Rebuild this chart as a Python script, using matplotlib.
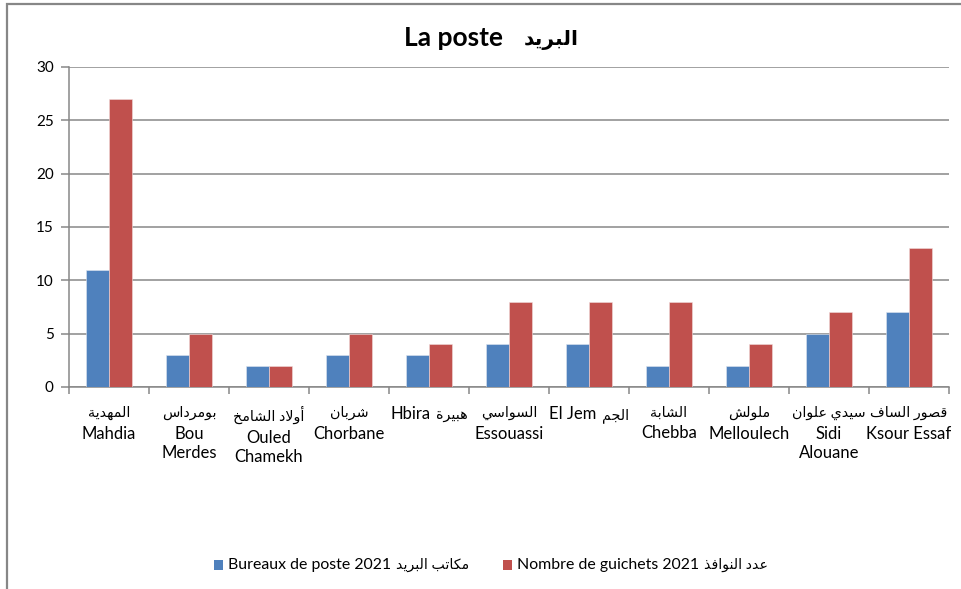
import matplotlib
matplotlib.use('Agg')
import matplotlib.pyplot as plt
from matplotlib.patches import Rectangle
from matplotlib.offsetbox import TextArea, HPacker, VPacker, DrawingArea, AnnotationBbox
import numpy as np

plt.rcParams['font.family'] = ['Lato', 'DejaVu Sans']

# communes of the Mahdia governorate
names_ar = ['المهدية', 'بومرداس', 'أولاد الشامخ', 'شربان', 'هبيرة', 'السواسي',
            'الجم', 'الشابة', 'ملولش', 'سيدي علوان', 'قصور الساف']
names_fr = ['Mahdia', 'Bou\nMerdes', 'Ouled\nChamekh', 'Chorbane', 'Hbira', 'Essouassi',
            'El Jem', 'Chebba', 'Melloulech', 'Sidi\nAlouane', 'Ksour Essaf']
same_line = ['Hbira', 'El Jem']

bureaux = [11, 3, 2, 3, 3, 4, 4, 2, 2, 5, 7]
guichets = [27, 5, 2, 5, 4, 8, 8, 8, 4, 7, 13]

title_fr = 'La poste'
title_ar = 'البريد'
label_bureaux = ('Bureaux de poste 2021', 'مكاتب البريد')
label_guichets = ('Nombre de guichets 2021', 'عدد النوافذ')

# matplotlib has no arabic shaping: pick presentation forms by hand
# (base code point, joins to the following letter)
FORMS = {'ا': (0xFE8D, False), 'أ': (0xFE83, False), 'ب': (0xFE8F, True),
         'ة': (0xFE93, False), 'ت': (0xFE95, True), 'ج': (0xFE9D, True),
         'خ': (0xFEA5, True), 'د': (0xFEA9, False), 'ذ': (0xFEAB, False),
         'ر': (0xFEAD, False), 'س': (0xFEB1, True), 'ش': (0xFEB5, True),
         'ص': (0xFEB9, True), 'ع': (0xFEC9, True), 'ف': (0xFED1, True),
         'ق': (0xFED5, True), 'ك': (0xFED9, True), 'ل': (0xFEDD, True),
         'م': (0xFEE1, True), 'ن': (0xFEE5, True), 'ه': (0xFEE9, True),
         'و': (0xFEED, False), 'ي': (0xFEF1, True), '\ufefb': (0xFEFB, False)}


def shape(text):
    text = text.replace('لا', '\ufefb')
    out = []
    for i, ch in enumerate(text):
        if ch not in FORMS:
            out.append(ch)
            continue
        base, dual = FORMS[ch]
        prev = text[i - 1] if i > 0 else ''
        nxt = text[i + 1] if i + 1 < len(text) else ''
        join_prev = prev in FORMS and FORMS[prev][1]
        join_next = dual and nxt in FORMS
        out.append(chr(base + (1 if join_prev else 0) + (2 if join_next else 0)))
    return ''.join(reversed(out))


blue = '#4F81BD'
red = '#C0504D'
grey = '#878787'

fig = plt.figure(figsize=(9.61, 5.89), dpi=100)
ax = fig.add_axes([69 / 961, 1 - 387 / 589, 880 / 961, 320 / 589])

x = np.arange(len(names_fr))
w = 0.283
ax.bar(x - w / 2, bureaux, w, color=blue, edgecolor='#dfe6f0', linewidth=0.4, zorder=3)
ax.bar(x + w / 2, guichets, w, color=red, edgecolor='#f0dcdc', linewidth=0.4, zorder=3)

ax.set_xlim(-0.5, len(x) - 0.5)
ax.set_ylim(0, 30)
ax.set_yticks(range(0, 31, 5))
ax.yaxis.grid(True, color=grey, linewidth=1.1, zorder=0)

# category boundaries carry the tick marks, names are drawn below
ax.set_xticks(np.arange(-0.5, len(x), 1))
ax.set_xticklabels([])
ax.tick_params(axis='x', length=5, color=grey, width=1.1)
ax.tick_params(axis='y', length=6, color=grey, width=1.1, labelsize=11, pad=5)

for side in ['top', 'right']:
    ax.spines[side].set_visible(False)
for side in ['left', 'bottom']:
    ax.spines[side].set_color(grey)
    ax.spines[side].set_linewidth(1.1)

# arabic name above, french name below (same line for short names)
for i, (ar, fr) in enumerate(zip(names_ar, names_fr)):
    ar_box = TextArea(shape(ar), textprops=dict(fontsize=10.3))
    fr_box = TextArea(fr, textprops=dict(fontsize=12, linespacing=1.3,
                                         multialignment='center'))
    if fr in same_line:
        box = HPacker(children=[fr_box, ar_box], align='baseline', pad=0, sep=4)
    else:
        box = VPacker(children=[ar_box, fr_box], align='center', pad=0, sep=4)
    ab = AnnotationBbox(box, (i, 0), xycoords=('data', 'axes fraction'),
                        xybox=(0, -13.5), boxcoords='offset points', box_alignment=(0.5, 1),
                        frameon=False, annotation_clip=False)
    ax.add_artist(ab)

# title
title = HPacker(children=[TextArea(title_fr, textprops=dict(fontsize=19, fontweight='bold')),
                          TextArea(shape(title_ar), textprops=dict(fontsize=14.5, fontweight='bold'))],
                align='baseline', pad=0, sep=15)
fig.add_artist(AnnotationBbox(title, (491 / 961, 1 - 38 / 589), xycoords='figure fraction',
                              frameon=False))


# legend
def legend_entry(color, fr, ar):
    da = DrawingArea(6.5, 6.5, 0, 0)
    da.add_artist(Rectangle((0, 0), 6.5, 6.5, facecolor=color, edgecolor='none'))
    return HPacker(children=[da, TextArea(fr, textprops=dict(fontsize=11.4)),
                             TextArea(ar, textprops=dict(fontsize=10.2))],
                   align='center', pad=0, sep=3.5)


legend = HPacker(children=[legend_entry(blue, label_bureaux[0], shape(label_bureaux[1])),
                           legend_entry(red, label_guichets[0], shape(label_guichets[1]))],
                 align='center', pad=0, sep=24)
fig.add_artist(AnnotationBbox(legend, (491 / 961, 1 - 565 / 589), xycoords='figure fraction',
                              frameon=False))

# outer chart frame
fig.add_artist(Rectangle((7 / 961, -0.1), 1.2, 1.1 - 4 / 589, transform=fig.transFigure,
                         fill=False, edgecolor=grey, linewidth=1.6))

fig.savefig('out.png', dpi=100)
